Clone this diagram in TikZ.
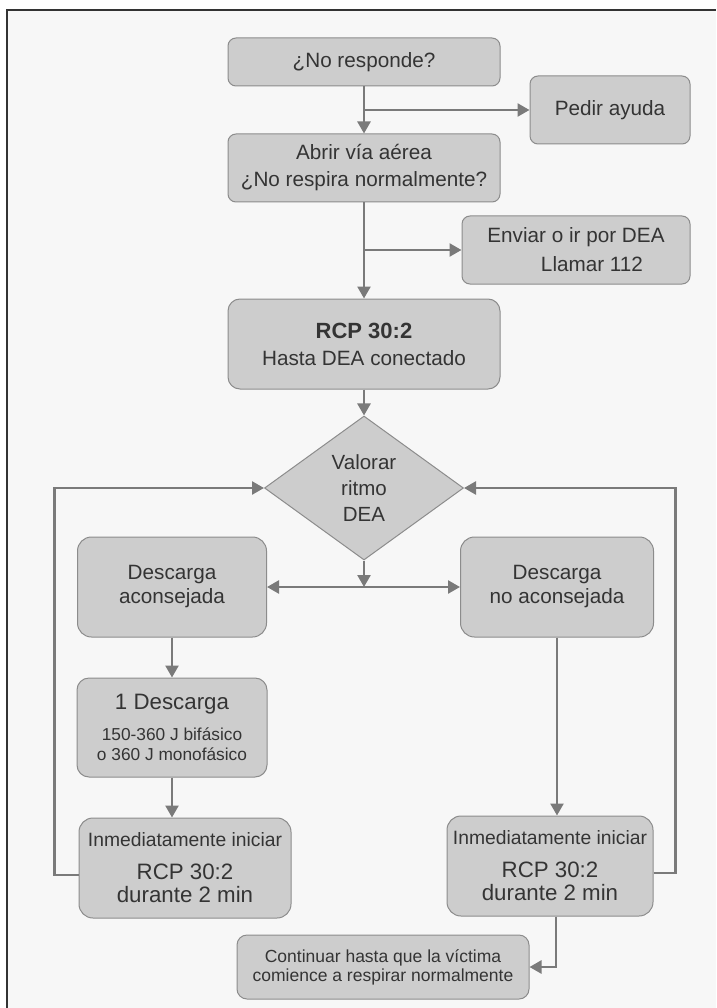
\documentclass[tikz,border=0pt]{standalone}
\usepackage{fontspec}
\setmainfont{Liberation Sans}
\usetikzlibrary{shapes,arrows.meta,positioning,calc}
\definecolor{boxfill}{RGB}{205,205,205}
\definecolor{boxline}{RGB}{140,140,140}
\definecolor{linecol}{RGB}{122,122,122}
\definecolor{txtcol}{RGB}{52,52,52}
\definecolor{paper}{RGB}{247,247,247}

\begin{document}
\begin{tikzpicture}[
    x=1pt, y=-1pt,
    >={Triangle[length=12pt,width=13pt]},
    box/.style={rectangle, rounded corners=8pt, draw=boxline, line width=1pt, fill=boxfill, text=txtcol, align=center, inner sep=0pt, font=\fontsize{20.7}{27}\selectfont},
    decision/.style={diamond, aspect=1.38, draw=boxline, line width=1pt, fill=boxfill, text=txtcol, align=center, inner sep=0pt, font=\fontsize{20.5}{26}\selectfont},
    arrow/.style={->, draw=linecol, line width=2.5pt},
    twoway/.style={<->, draw=linecol, line width=2.5pt},
    link/.style={draw=linecol, line width=2.5pt}
]

% Page and frame
\useasboundingbox (0,0) rectangle (716,1008);
\fill[white] (0,0) rectangle (716,1008);
\fill[paper] (7,10) rectangle (716,1008);
\draw[line width=1.6pt, black!80] (7,1008) -- (7,10) -- (716,10);

% Main column
\node[box, minimum width=272pt, minimum height=48pt] (resp) at (364,62) {¿No responde?};
\node[box, minimum width=272pt, minimum height=68pt, below=47pt of resp] (abrir) {Abrir vía aérea\\¿No respira normalmente?};
\node[box, minimum width=272pt, minimum height=90pt, rounded corners=12pt, below=96pt of abrir] (rcp) {{\bfseries\fontsize{22}{27}\selectfont RCP 30:2}\\Hasta DEA conectado};
\node[decision, minimum width=199pt, minimum height=144pt, below=26pt of rcp] (valorar) {Valorar\\ritmo\\DEA};

% Side boxes
\node[box, minimum width=160pt, minimum height=68pt] (ayuda) at (610,110) {Pedir ayuda};
\node[box, minimum width=228pt, minimum height=68pt, font=\fontsize{20.7}{29}\selectfont] (enviar) at (576,250) {Enviar o ir por DEA\\\hspace*{32pt}Llamar 112};

% Shock branches
\node[box, minimum width=189pt, minimum height=100pt, rounded corners=14pt, font=\fontsize{20.7}{24}\selectfont] (si) at (172,587) {Descarga\\aconsejada};
\node[box, minimum width=193pt, minimum height=100pt, rounded corners=14pt, font=\fontsize{20.7}{24}\selectfont] (no) at (557,587) {Descarga\\no aconsejada};
\node[box, minimum width=190pt, minimum height=99pt, rounded corners=12pt, below=40pt of si, font=\fontsize{17.3}{20}\selectfont] (choque) {{\fontsize{22.3}{20}\selectfont 1 Descarga}\\[11pt]150-360 J bifásico\\o 360 J monofásico};
\node[box, minimum width=212pt, minimum height=100pt, rounded corners=14pt, below=40pt of choque, xshift=13pt, font=\fontsize{22.3}{23}\selectfont] (rcpsi) {{\fontsize{19.3}{23}\selectfont Inmediatamente iniciar}\\[10pt]RCP 30:2\\durante 2 min};
\node[box, minimum width=206pt, minimum height=100pt, rounded corners=14pt, font=\fontsize{22.3}{23}\selectfont] (rcpno) at (550,866) {{\fontsize{19.3}{23}\selectfont Inmediatamente iniciar}\\[10pt]RCP 30:2\\durante 2 min};
\node[box, minimum width=292pt, minimum height=64pt, rounded corners=10pt, font=\fontsize{17.5}{19}\selectfont] (seguir) at (383,967) {Continuar hasta que la víctima\\comience a respirar normalmente};

% Main flow
\draw[arrow] (resp) -- (abrir);
\draw[arrow] (resp.south |- ayuda.west) -- (ayuda.west);
\draw[arrow] (abrir) -- (rcp);
\draw[arrow] (abrir.south |- enviar.west) -- (enviar.west);
\draw[arrow] (rcp) -- (valorar);

% Rhythm decision
\draw[arrow] (valorar.south) -- (valorar.south |- si.east);
\draw[twoway] (si.east) -- (no.west);
\draw[arrow] (si) -- (choque);
\draw[arrow] (choque.south) -- (choque.south |- rcpsi.north);
\draw[arrow] (no.south) -- (no.south |- rcpno.north);

% Loops back to rhythm check
\draw[arrow] ([yshift=-7pt]rcpsi.west) -- ++(-24,0) |- (valorar.west);
\draw[arrow] ([yshift=-7pt]rcpno.east) -- ++(22,0) |- (valorar.east);
\draw[arrow] ([xshift=6pt]rcpno.south) |- (seguir.east);

\end{tikzpicture}
\end{document}
